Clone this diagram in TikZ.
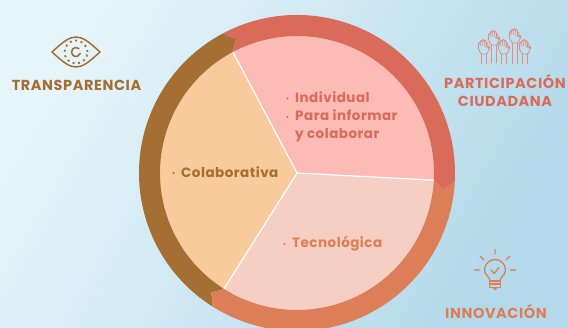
\documentclass[tikz,border=0pt]{standalone}
\usepackage{fontspec}
\usetikzlibrary{calc}
\setmainfont{Poppins}
\newfontfamily\headf[LetterSpace=4]{Poppins}
\newfontfamily\bodyf[LetterSpace=3.6]{Poppins}
\definecolor{cbrown}{HTML}{A56E33}
\definecolor{cred}{HTML}{DA6B5A}
\definecolor{corange}{HTML}{DC7E58}
\definecolor{fpeach}{HTML}{F8CA9C}
\definecolor{fpink}{HTML}{FCBBB5}
\definecolor{flight}{HTML}{F6CFC4}
\definecolor{chand}{HTML}{E08C80}
\definecolor{bgA}{HTML}{E6F5FA}
\definecolor{bgB}{HTML}{B3D9EA}
\tikzset{
  head/.style={font=\headf\bfseries\fontsize{14.5}{18}\selectfont,inner sep=0pt,align=center},
  lab/.style={font=\bodyf\bfseries\fontsize{13.5}{18.5}\selectfont,inner sep=0pt,anchor=west,align=left},
  dot/.style={circle,fill=#1,inner sep=0pt,minimum size=2.4pt},
  spoke/.style={white,line width=1.2pt},
  icon/.style={line width=1.3pt,line cap=round,line join=round},
}
\newcommand{\ringseg}[3]{%
  \fill[#1,shift={(C)}] (#2:158pt) arc[start angle=#2,end angle=#3,radius=158pt]
    -- ({#3-3.4}:147pt) -- (#3:137pt) arc[start angle=#3,end angle=#2,radius=137pt]
    -- ({#2-3.4}:147pt) -- cycle;}
\newcommand{\pieseg}[3]{%
  \fill[#1,shift={(C)}] (0,0) -- (#2:137.5pt) arc[start angle=#2,end angle=#3,radius=137.5pt] -- cycle;}
\newcommand{\handicon}[3]{% x, y palm centre, arm length
  \begin{scope}[shift={(#1,#2)},chand,line width=.8pt,line join=round,line cap=round]
    \draw[rounded corners=.9pt] (-3,-6) -- (-5.5,-1) -- (-5.5,5.5) -- (-3.8,5.5) -- (-3.8,1) -- (-3.6,7.5) -- (-1.8,7.5) -- (-1.8,1.5)
      -- (-1.6,8.5) -- (.2,8.5) -- (.2,1.5) -- (.4,7.5) -- (2.2,7.5) -- (2.2,1) -- (2.4,1) -- (2.4,5) -- (3.9,5) -- (3.9,-1) -- (5.6,2) -- (6,.5) -- (3,-6) -- cycle;
    \draw (-2.5,-6) -- (-2.5,-6-#3) (2.5,-6) -- (2.5,-6-#3);
  \end{scope}}
\begin{document}
\begin{tikzpicture}[x=1pt,y=1pt]
\useasboundingbox (0,0) rectangle (568,328);
\clip (0,0) rectangle (568,328);
\shade[shading=axis,top color=bgA,bottom color=bgB,shading angle=60] (0,0) rectangle (568,328);
\coordinate (C) at (297,155);
% pie
\pieseg{fpeach}{237.8}{117.9}
\pieseg{fpink}{117.9}{-3}
\pieseg{flight}{-3}{-122.2}
% ring
\ringseg{cbrown}{237.8}{117.9}
\ringseg{cred}{117.9}{-3}
\ringseg{corange}{-3}{-122.2}
% spokes
\coordinate (S1) at ($(C)+(117.9:137pt)$);
\coordinate (S2) at ($(C)+(-3:137pt)$);
\coordinate (S3) at ($(C)+(237.8:137pt)$);
\draw[spoke] (S1) -- (C) -- (S2) (C) -- (S3);
% labels in the sectors
\node[dot=cred] (d1) at (287.5,229.5) {};
\node[dot=cred] (d2) at (287.5,211) {};
\node[lab,text=cred] (l1) at (295,231) {Individual};
\node[lab,text=cred,anchor=north west] (l2) at (295,219) {Para informar\\y colaborar};
\node[dot=cbrown] (d3) at (173.5,155) {};
\node[lab,text=cbrown] (l3) at (181,156) {Colaborativa};
\node[dot=corange] (d4) at (284.5,84) {};
\node[lab,text=corange] (l4) at (292,84) {Tecnológica};
% headings
\node[head,text=cbrown] (h1) at (76.5,243) {TRANSPARENCIA};
\node[head,text=cred] (h2) at (505,246.5) {PARTICIPACIÓN};
\node[head,text=cred] (h4) at (505,227) {CIUDADANA};
\node[head,text=corange] (h5) at (496,17) {INNOVACIÓN};
% eye
\begin{scope}[shift={(76,276)},cbrown,icon]
  \draw[line width=1.5pt] (-24,0) .. controls (-13,10) and (-7,15) .. (0,15) .. controls (7,15) and (13,10) .. (24,0)
     .. controls (13,-10) and (7,-15) .. (0,-15) .. controls (-7,-15) and (-13,-10) .. (-24,0) -- cycle;
  \draw[line width=1.8pt,dash pattern=on 2pt off 3.6pt,line cap=butt] (0,0) circle[radius=11.5pt];
  \draw[line width=1.6pt] (50:4.5pt) arc[start angle=50,end angle=340,radius=4.5pt];
\end{scope}
% hands
\handicon{494}{289}{18}
\handicon{515}{291}{21}
\handicon{484}{280}{10}
\handicon{504}{280}{10}
\handicon{525}{280}{10}
% bulb
\begin{scope}[shift={(495,57)},corange,icon]
  \draw (-5,-10) .. controls (-5,-6) and (-10.5,-4) .. (-10.5,1) arc[start angle=180,end angle=0,radius=10.5pt]
     .. controls (10.5,-4) and (5,-6) .. (5,-10);
  \draw (-5.5,-10) rectangle (5.5,-16.5);
  \draw (-5.5,-13) -- (5.5,-13);
  \draw (-2,-16.5) -- (0,-18.5) -- (2,-16.5);
  \draw (-4,1) -- (-.8,-2.5) -- (4,3.5);
  \draw (0,17) -- (0,21.5) (-15,15) -- (-11,11) (11,11) -- (15,15) (-20.5,1) -- (-15.5,1) (15.5,1) -- (20.5,1);
\end{scope}
\end{tikzpicture}
\end{document}
